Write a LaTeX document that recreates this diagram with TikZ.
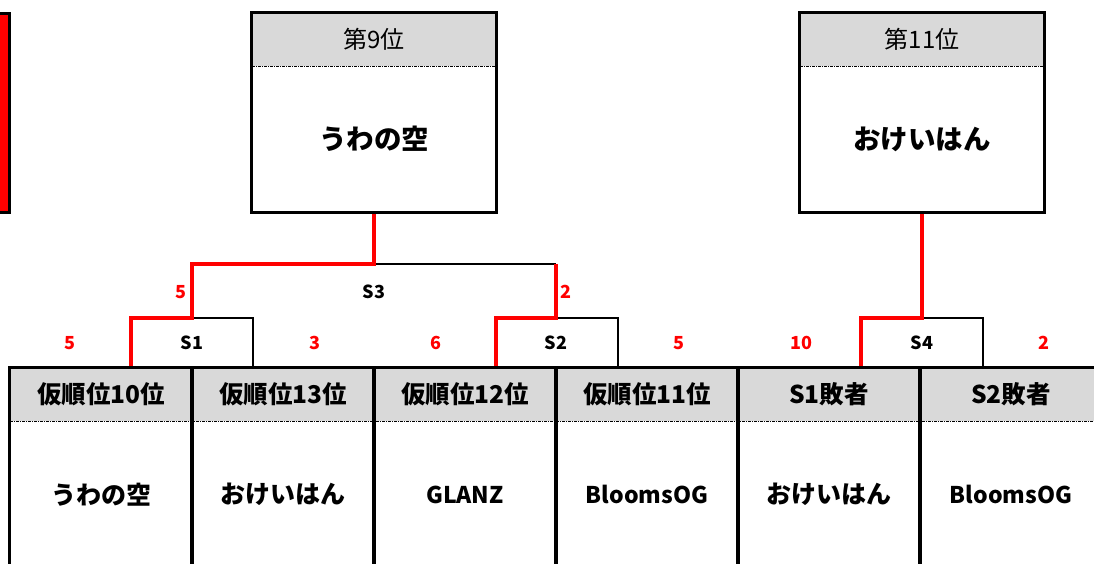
\documentclass[tikz,border=0pt]{standalone}
\usepackage{fontspec}
\setmainfont{Noto Sans CJK JP}
\usepackage{xcolor}
\usetikzlibrary{positioning}
\definecolor{headgray}{HTML}{D9D9D9}
\definecolor{winred}{HTML}{FF0000}

\begin{document}
\begin{tikzpicture}[x=1pt, y=-1pt, node distance=182pt, on grid,
    frame/.style={line width=3pt},
    thinline/.style={line width=2pt},
    win/.style={line width=4pt, draw=winred},
    sep/.style={line width=1pt, dash pattern=on 3pt off 1pt on 1pt off 1pt},
    colhead/.style={fill=headgray, minimum width=182pt, minimum height=53pt, inner sep=0pt, font=\fontsize{24.5}{24.5}\selectfont\bfseries},
    colteam/.style={minimum width=182pt, minimum height=147pt, inner sep=0pt, font=\fontsize{25}{25}\selectfont\bfseries},
    latinteam/.style={colteam, font=\fontsize{23}{23}\selectfont\bfseries},
    rankhead/.style={fill=headgray, minimum width=244pt, minimum height=53pt, inner sep=0pt, font=\fontsize{24}{24}\selectfont},
    rankteam/.style={minimum width=244pt, minimum height=146pt, inner sep=0pt, font=\fontsize{27.5}{27.5}\selectfont\bfseries},
    match/.style={font=\fontsize{18}{18}\selectfont\bfseries},
    score/.style={text=winred, font=\fontsize{18}{18}\selectfont\bfseries}]

    \useasboundingbox (0,0) rectangle (1094,563);
    \clip (0,0) rectangle (1094,563);

    % red box cut by the left edge
    \draw[frame, fill=winred] (-20,13) rectangle (9,212);

    % final places
    \node[rankhead] (r9h) at (374,39.5) {第9位};
    \node[rankteam] (r9) [below=99.5pt of r9h] {うわの空};
    \node[rankhead] (r11h) at (922,39.5) {第11位};
    \node[rankteam] (r11) [below=99.5pt of r11h] {おけいはん};

    % seeds
    \node[colhead] (h1) at (101,394.5) {仮順位10位};
    \node[colhead] (h2) [right=of h1] {仮順位13位};
    \node[colhead] (h3) [right=of h2] {仮順位12位};
    \node[colhead] (h4) [right=of h3] {仮順位11位};
    \node[colhead] (h5) [right=of h4] {S1敗者};
    \node[colhead] (h6) [right=of h5] {S2敗者};

    \node[colteam] (t1) [below=100pt of h1] {うわの空};
    \node[colteam] (t2) [below=100pt of h2] {おけいはん};
    \node[latinteam] (t3) [below=100pt of h3] {GLANZ};
    \node[latinteam] (t4) [below=100pt of h4] {BloomsOG};
    \node[colteam] (t5) [below=100pt of h5] {おけいはん};
    \node[latinteam] (t6) [below=100pt of h6] {BloomsOG};

    % matches
    \node[match] (s1) at (192,343) {S1};
    \node[match] (s2) at (556,343) {S2};
    \node[match] (s4) at (922,343) {S4};
    \node[match] (s3) at (374,292) {S3};

    \node[score] (p1) at (70,343) {5};
    \node[score] (p2) at (315,343) {3};
    \node[score] (p3) at (436,343) {6};
    \node[score] (p4) at (679,343) {5};
    \node[score] (p5) at (801,343) {10};
    \node[score] (p6) at (1044,343) {2};
    \node[score] (p7) at (181,292) {5};
    \node[score] (p8) at (566,292) {2};

    \coordinate (s1l) at (131,318);
    \coordinate (s1r) at (253,318);
    \coordinate (s2l) at (496,318);
    \coordinate (s2r) at (618,318);
    \coordinate (s4l) at (861,318);
    \coordinate (s4r) at (983,318);
    \coordinate (s3l) at (192,264);
    \coordinate (s3r) at (556,264);

    % dotted rules under the headers
    \draw[sep] (r9h.south west) -- (r9h.south east);
    \draw[sep] (r11h.south west) -- (r11h.south east);
    \draw[sep] (h1.south west) -- (h6.south east);

    % bracket
    \draw[thinline] (s1 |- s1l) -- (s1r) -- (s1r |- h2.north);
    \draw[thinline] (s2 |- s2l) -- (s2r) -- (s2r |- h4.north);
    \draw[thinline] (s4 |- s4l) -- (s4r) -- (s4r |- h6.north);
    \draw[thinline] (s3 |- s3l) -- (s3r);

    \draw[win] (s1l |- h1.north) -- (s1l) -- (s3l |- s1l) -- (s3l) -- (s3 |- s3l) -- (r9.south);
    \draw[win] (s2l |- h3.north) -- (s2l) -- (s3r |- s2l) -- (s3r);
    \draw[win] (s4l |- h5.north) -- (s4l) -- (s4 |- s4l) -- (r11.south);

    % frames
    \draw[frame] (r9h.north west) rectangle (r9.south east);
    \draw[frame] (r11h.north west) rectangle (r11.south east);
    \foreach \i in {1,...,6}
        \draw[frame] (h\i.north west) rectangle (t\i.south east);
\end{tikzpicture}
\end{document}
